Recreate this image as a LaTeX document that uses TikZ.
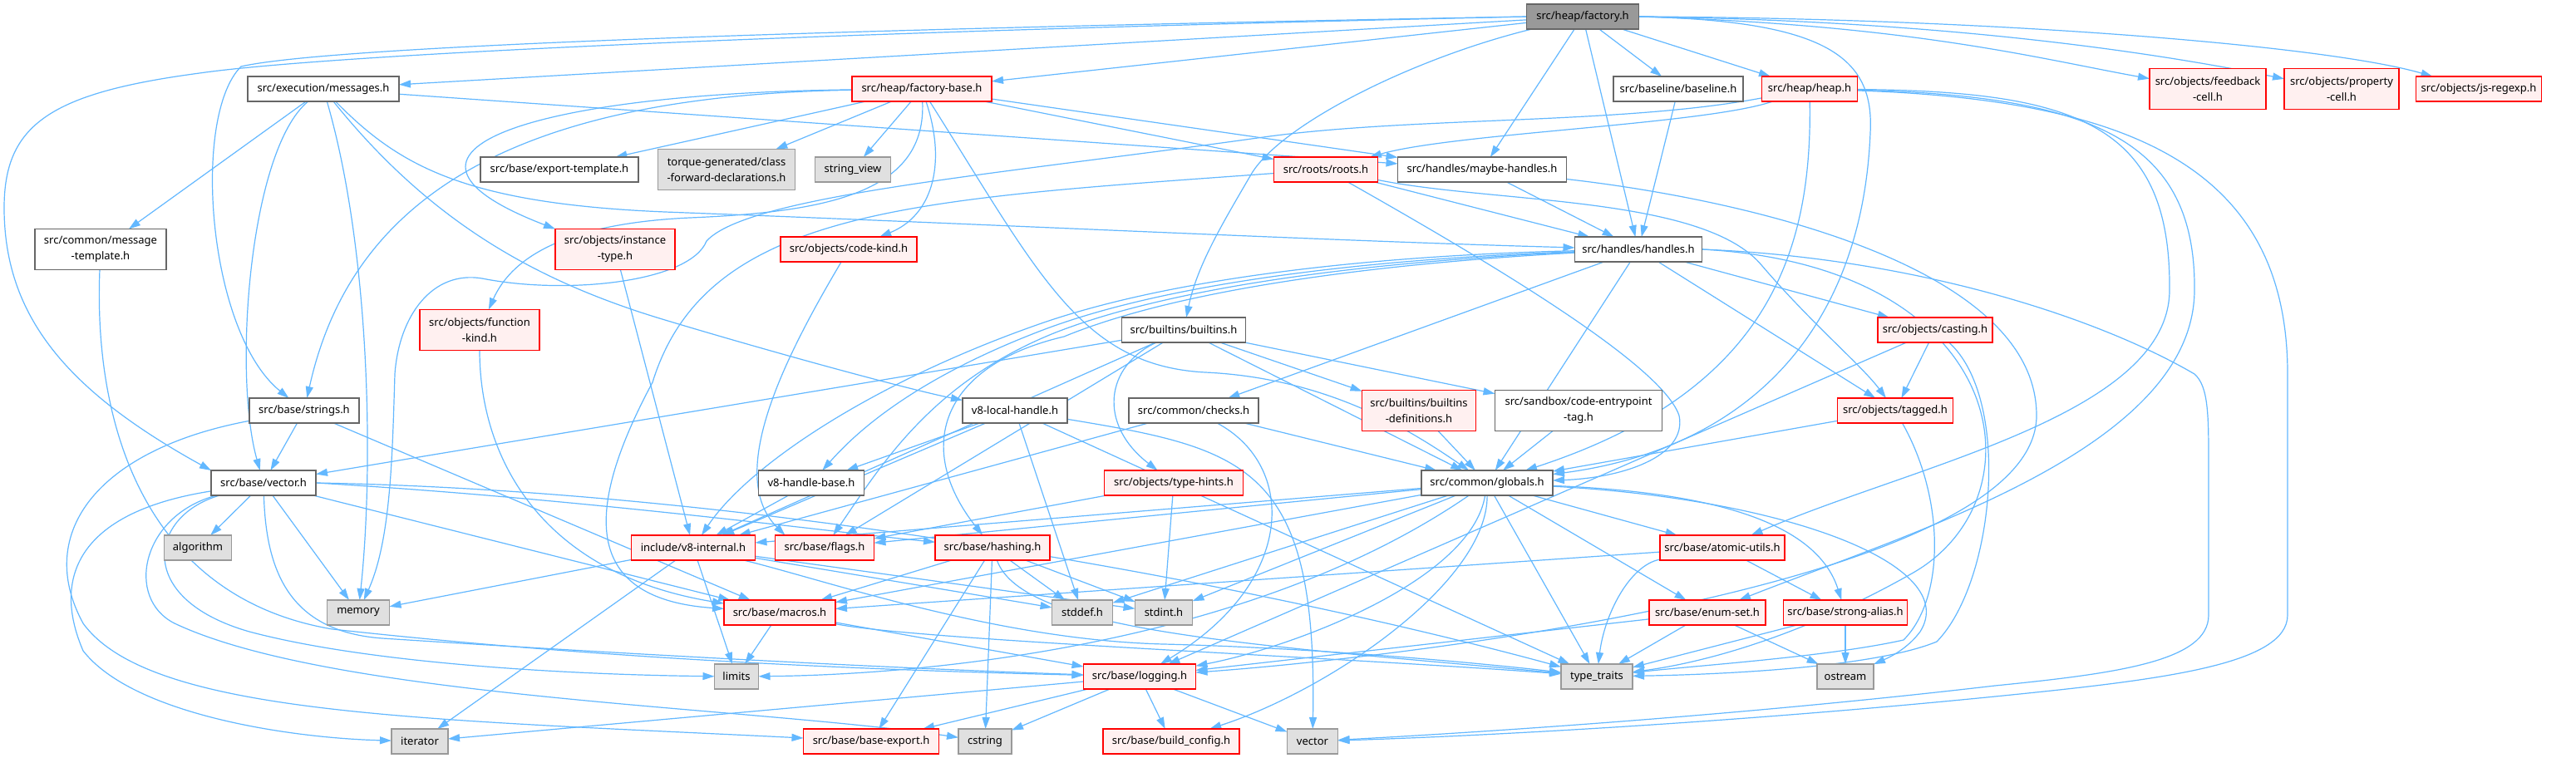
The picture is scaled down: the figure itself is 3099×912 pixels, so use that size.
\documentclass[tikz,border=0pt]{standalone}
\usepackage{fontspec}
\setmainfont{Noto Sans}
\usetikzlibrary{arrows.meta,backgrounds}
\definecolor{edgeblue}{HTML}{63B8FF}
\definecolor{redfill}{HTML}{FFF0F0}
\definecolor{stdfill}{HTML}{E0E0E0}
\definecolor{grayfill}{HTML}{999999}
\definecolor{darkborder}{HTML}{666666}
\definecolor{lightborder}{HTML}{999999}
\definecolor{redborder}{HTML}{FF0000}
\tikzset{
  box/.style={line width=1.4pt, inner sep=0pt, outer sep=0pt, align=center,
    font=\fontsize{13}{19}\selectfont, minimum height=30pt},
  wbox/.style={box, fill=white, draw=darkborder},
  rbox/.style={box, fill=redfill, draw=redborder},
  sbox/.style={box, fill=stdfill, draw=lightborder},
  gbox/.style={box, fill=grayfill, draw=darkborder},
  tall/.style={minimum height=49pt},
  edge/.style={draw=edgeblue, line width=1.2pt, -{Triangle[length=14pt,width=9pt]}},
}
\begin{document}
\begin{tikzpicture}[x=1pt,y=-1pt]
\useasboundingbox (0,0) rectangle (3099,912);
% nodes
\node[gbox, minimum width=135pt] (fac) at (1904,20) {src/heap/factory.h};
\node[wbox, minimum width=182pt] (msg) at (389,107) {src/execution/messages.h};
\node[rbox, minimum width=168pt] (fb) at (1109,107) {src/heap/factory-base.h};
\node[wbox, minimum width=156pt] (bl) at (2019,107) {src/baseline/baseline.h};
\node[rbox, minimum width=115pt] (heap) at (2177,107) {src/heap/heap.h};
\node[rbox, tall, minimum width=140pt] (fbc) at (2656,107) {src/objects/feedback\\-cell.h};
\node[rbox, tall, minimum width=138pt] (pc) at (2817,107) {src/objects/property\\-cell.h};
\node[rbox, minimum width=151pt] (jsr) at (2982,107) {src/objects/js-regexp.h};
\node[wbox, tall, minimum width=158pt] (mt) at (121,300) {src/common/message\\-template.h};
\node[wbox, minimum width=190pt] (et) at (673,204) {src/base/export-template.h};
\node[sbox, tall, minimum width=165pt] (tq) at (874,204) {torque-generated/class\\-forward-declarations.h};
\node[sbox, minimum width=91pt] (sv) at (1026,204) {string\_view};
\node[rbox, minimum width=125pt] (roots) at (1595,204) {src/roots/roots.h};
\node[wbox, minimum width=203pt] (mh) at (1783,204) {src/handles/maybe-handles.h};
\node[rbox, tall, minimum width=144pt] (it) at (740,300) {src/objects/instance\\-type.h};
\node[rbox, minimum width=164pt] (ck) at (1021,300) {src/objects/code-kind.h};
\node[wbox, minimum width=153pt] (hd) at (1971,300) {src/handles/handles.h};
\node[rbox, tall, minimum width=144pt] (fk) at (577,397) {src/objects/function\\-kind.h};
\node[wbox, minimum width=149pt] (bi) at (1424,397) {src/builtins/builtins.h};
\node[rbox, minimum width=138pt] (cast) at (2328,397) {src/objects/casting.h};
\node[wbox, minimum width=132pt] (str) at (366,494) {src/base/strings.h};
\node[wbox, minimum width=126pt] (lh) at (1221,494) {v8-local-handle.h};
\node[wbox, minimum width=156pt] (chk) at (1436,494) {src/common/checks.h};
\node[rbox, tall, minimum width=137pt] (bd) at (1707,494) {src/builtins/builtins\\-definitions.h};
\node[wbox, tall, minimum width=201pt] (cet) at (1899,494) {src/sandbox/code-entrypoint\\-tag.h};
\node[rbox, minimum width=139pt] (tag) at (2280,494) {src/objects/tagged.h};
\node[wbox, minimum width=126pt] (vec) at (317,581) {src/base/vector.h};
\node[wbox, minimum width=127pt] (hb) at (976,581) {v8-handle-base.h};
\node[rbox, minimum width=167pt] (th) at (1412,581) {src/objects/type-hints.h};
\node[wbox, minimum width=158pt] (gl) at (1789,581) {src/common/globals.h};
\node[sbox, minimum width=81pt] (alg) at (238,659) {algorithm};
\node[rbox, minimum width=149pt] (vi) at (834,659) {include/v8-internal.h};
\node[rbox, minimum width=119pt] (fl) at (992,659) {src/base/flags.h};
\node[rbox, minimum width=138pt] (ha) at (1194,659) {src/base/hashing.h};
\node[rbox, minimum width=150pt] (au) at (2072,659) {src/base/atomic-utils.h};
\node[sbox, minimum width=75pt] (mem) at (431,737) {memory};
\node[rbox, minimum width=134pt] (ma) at (938,737) {src/base/macros.h};
\node[sbox, minimum width=73pt] (sdd) at (1302,737) {stddef.h};
\node[sbox, minimum width=69pt] (sdi) at (1400,737) {stdint.h};
\node[rbox, minimum width=140pt] (es) at (2054,737) {src/base/enum-set.h};
\node[rbox, minimum width=149pt] (sa) at (2220,737) {src/base/strong-alias.h};
\node[sbox, minimum width=53pt] (lim) at (886,814) {limits};
\node[rbox, minimum width=135pt] (log) at (1371,814) {src/base/logging.h};
\node[sbox, minimum width=86pt] (tt) at (1921,814) {type\_traits};
\node[sbox, minimum width=68pt] (os) at (2220,814) {ostream};
\node[sbox, minimum width=68pt] (itr) at (505,892) {iterator};
\node[rbox, minimum width=163pt] (be) at (1048,892) {src/base/base-export.h};
\node[sbox, minimum width=64pt] (cs) at (1185,892) {cstring};
\node[rbox, minimum width=164pt] (bc) at (1409,892) {src/base/build\_config.h};
\node[sbox, minimum width=61pt] (svec) at (1579,892) {vector};

\begin{pgfonlayer}{background}
\fill[white] (0,0) rectangle (3099,912);
% factory.h
\draw[edge] (fac) -- (msg);
\draw[edge] (fac) -- (fb);
\draw[edge] (fac) -- (bl);
\draw[edge] (fac) -- (heap);
\draw[edge] (fac.east) .. controls (2300,30) and (2450,70) .. (fbc.170);
\draw[edge] (fac.east) .. controls (2350,25) and (2600,65) .. (pc.170);
\draw[edge] (fac.east) .. controls (2400,22) and (2800,55) .. ([xshift=20pt]jsr.north west);
\draw[edge] (fac) -- (mh);
\draw[edge] (fac) -- (hd);
\draw[edge] (fac) .. controls (1700,70) and (1540,150) .. (1505,210) .. controls (1470,270) and (1440,320) .. (bi);
\draw[edge] (fac.east) .. controls (2200,25) and (2255,70) .. (2250,160) .. controls (2240,400) and (2100,540) .. (gl);
\draw[edge] (fac.west) .. controls (1000,35) and (400,55) .. (290,80) .. controls (230,140) and (250,400) .. (str);
\draw[edge] (fac.west) .. controls (1000,38) and (400,65) .. (240,88) .. controls (60,112) and (5,150) .. (5,250) .. controls (5,380) and (80,470) .. (vec.north west);
% messages
\draw[edge] (msg) -- (mt);
\draw[edge] (msg) .. controls (300,180) and (280,450) .. (vec);
\draw[edge] (msg) .. controls (445,300) and (450,560) .. (mem);
\draw[edge] (msg) .. controls (520,270) and (650,340) .. (800,385) .. controls (950,430) and (1100,470) .. (lh);
\draw[edge] (msg) .. controls (480,200) and (560,245) .. (800,255) .. controls (1200,270) and (1600,290) .. (hd);
\draw[edge] (msg) -- (mh);
% factory-base
\draw[edge] (fb) -- (et);
\draw[edge] (fb) -- (tq);
\draw[edge] (fb) -- (sv);
\draw[edge] (fb) .. controls (650,112) and (420,180) .. (it.north west);
\draw[edge] (fb) .. controls (600,115) and (420,250) .. (str);
\draw[edge] (fb) .. controls (1115,230) and (1000,255) .. (830,262) .. controls (700,268) and (620,300) .. (fk);
\draw[edge] (fb) .. controls (1140,200) and (1120,260) .. (ck);
\draw[edge] (fb) .. controls (1250,330) and (1300,440) .. (1450,448) .. controls (1600,455) and (1700,520) .. (gl);
\draw[edge] (fb) -- (roots);
\draw[edge] (fb) -- (mh);
% baseline, heap
\draw[edge] (bl) -- (hd);
\draw[edge] (heap) .. controls (2050,150) and (1750,160) .. (roots);
\draw[edge] (heap) .. controls (2180,300) and (2130,470) .. (gl);
\draw[edge] (heap) .. controls (1950,150) and (1700,140) .. (1520,165) .. controls (1200,210) and (900,235) .. (850,290) .. controls (830,340) and (680,355) .. (580,335) .. controls (520,325) and (480,380) .. (475,450) .. controls (472,550) and (470,650) .. (mem);
\draw[edge] (heap) .. controls (2500,110) and (2612,150) .. (2610,350) .. controls (2608,500) and (2300,560) .. (au);
\draw[edge] (heap) .. controls (2520,115) and (2642,170) .. (2640,350) .. controls (2638,540) and (2300,640) .. (es);
\draw[edge] (heap) .. controls (2560,120) and (2752,200) .. (2752,450) -- (2752,740) .. controls (2752,800) and (2600,818) .. (2400,838) .. controls (2100,868) and (1800,885) .. (svec);
% message-template
\draw[edge] (mt) .. controls (112,520) and (180,720) .. (400,757) .. controls (700,790) and (1000,805) .. (log);
% roots
\draw[edge] (roots) -- (hd);
\draw[edge] (roots) .. controls (1800,245) and (2050,235) .. (2120,320) .. controls (2180,390) and (2240,440) .. (tag);
\draw[edge] (roots) .. controls (1800,320) and (2000,440) .. (2020,500) .. controls (2030,550) and (1950,575) .. (gl);
\draw[edge] (roots) .. controls (1100,240) and (850,250) .. (785,460) .. controls (710,600) and (690,720) .. (ma);
% maybe-handles
\draw[edge] (mh) -- (hd);
\draw[edge] (mh) .. controls (2100,240) and (2450,320) .. (2450,500) .. controls (2450,700) and (1700,790) .. (log);
% objects
\draw[edge] (it) -- (vi);
\draw[edge] (ck) .. controls (950,420) and (870,570) .. ([xshift=12pt]fl.north west);
\draw[edge] (fk) .. controls (577,550) and (650,690) .. (ma);
% handles
\draw[edge] (hd) .. controls (1750,305) and (1450,320) .. (1250,390) .. controls (1050,460) and (900,560) .. (vi);
\draw[edge] (hd) .. controls (1750,308) and (1450,325) .. (1260,395) .. controls (1100,455) and (1030,520) .. (hb);
\draw[edge] (hd) .. controls (1750,310) and (1450,330) .. (1270,400) .. controls (1120,460) and (1060,560) .. (fl);
\draw[edge] (hd) .. controls (1750,312) and (1450,335) .. (1280,405) .. controls (1130,440) and (1100,540) .. (ha);
\draw[edge] (hd) -- (cast);
\draw[edge] (hd) -- (tag);
\draw[edge] (hd) -- (gl);
\draw[edge] (hd) -- (chk);
\draw[edge] (hd.east) .. controls (2420,320) and (2460,600) .. (2300,690) .. controls (2150,775) and (2030,800) .. (tt);
\draw[edge] (hd.east) .. controls (2300,310) and (2520,380) .. (2640,450) .. controls (2657,465) and (2657,500) .. (2657,560) -- (2657,740) .. controls (2657,795) and (2550,810) .. (2400,825) .. controls (2100,860) and (1800,880) .. (svec);
% builtins
\draw[edge] (bi) -- (vec);
\draw[edge] (bi) -- (gl);
\draw[edge] (bi) -- (bd);
\draw[edge] (bi) -- (cet);
\draw[edge] (bi) .. controls (1330,440) and (1320,510) .. (th);
\draw[edge] (bi) -- (fl);
\draw[edge] (bi) -- (vi);
% strings
\draw[edge] (str) -- (vec);
\draw[edge] (str) -- (ma);
\draw[edge] (str) .. controls (120,540) and (40,640) .. (100,750) .. controls (180,860) and (500,865) .. (be);
% v8-local-handle
\draw[edge] (lh) -- (hb);
\draw[edge] (lh) -- (vi);
\draw[edge] (lh) -- (sdd);
\draw[edge] (lh) -- (tt);
\draw[edge] (lh) .. controls (1500,540) and (1585,560) .. (svec);
% checks
\draw[edge] (chk) -- (vi);
\draw[edge] (chk) .. controls (1560,560) and (1560,700) .. (log);
\draw[edge] (chk) -- (gl);
\draw[edge] (bd) -- (gl);
\draw[edge] (cet) -- (gl);
% tagged, casting
\draw[edge] (tag) -- (gl);
\draw[edge] (tag) .. controls (2340,600) and (2340,720) .. (2290,770) .. controls (2200,790) and (2050,800) .. (tt);
\draw[edge] (cast) -- (tag);
\draw[edge] (cast) .. controls (2420,480) and (2400,700) .. (2330,772) .. controls (2250,805) and (2050,812) .. (tt);
\draw[edge] (cast) -- (log);
% vector
\draw[edge] (vec) -- (alg);
\draw[edge] (vec) -- (mem);
\draw[edge] (vec) .. controls (100,615) and (60,690) .. (100,783) .. controls (160,860) and (350,888) .. (itr);
\draw[edge] (vec) .. controls (170,620) and (150,720) .. (210,750) .. controls (400,840) and (900,850) .. (cs);
\draw[edge] (vec) .. controls (180,620) and (160,720) .. (300,760) .. controls (450,800) and (700,812) .. (lim);
\draw[edge] (vec) .. controls (320,690) and (350,760) .. (460,768) .. controls (800,790) and (1100,805) .. (log);
\draw[edge] (vec) -- (ma);
\draw[edge] (vec.east) .. controls (900,590) and (1500,700) .. (tt);
\draw[edge] (vec.east) .. controls (700,600) and (1000,640) .. (ha);
% handle base, type hints
\draw[edge] (hb) -- (vi);
\draw[edge] (th) -- (fl);
\draw[edge] (th) -- (sdi);
% globals
\draw[edge] (gl) -- (vi);
\draw[edge] (gl) -- (fl);
\draw[edge] (gl) -- (ma);
\draw[edge] (gl) .. controls (1770,700) and (1550,780) .. (log);
\draw[edge] (gl) -- (au);
\draw[edge] (gl) -- (es);
\draw[edge] (gl) .. controls (2000,590) and (2180,610) .. (sa);
\draw[edge] (gl) -- (tt);
\draw[edge] (gl) -- (sdd);
\draw[edge] (gl) -- (sdi);
\draw[edge] (gl) .. controls (2150,600) and (2360,680) .. (2310,760) .. controls (2295,780) and (2275,790) .. (os);
\draw[edge] (gl) .. controls (1500,780) and (1100,812) .. (lim);
\draw[edge] (gl) .. controls (1790,700) and (1600,830) .. (bc);
% v8-internal
\draw[edge] (vi) -- (mem);
\draw[edge] (vi) -- (lim);
\draw[edge] (vi) -- (itr);
\draw[edge] (vi) -- (sdd);
\draw[edge] (vi) -- (sdi);
\draw[edge] (vi) .. controls (1000,700) and (1200,770) .. (1400,775) .. controls (1600,780) and (1800,800) .. (tt);
% hashing
\draw[edge] (ha) -- (ma);
\draw[edge] (ha) -- (be);
\draw[edge] (ha) -- (cs);
\draw[edge] (ha) -- (sdd);
\draw[edge] (ha) -- (sdi);
\draw[edge] (ha) .. controls (1230,760) and (1500,775) .. (tt);
% atomic-utils, enum-set, strong-alias
\draw[edge] (au) -- (ma);
\draw[edge] (au) -- (sa);
\draw[edge] (au) .. controls (1960,680) and (1930,740) .. (tt);
\draw[edge] (es) -- (log);
\draw[edge] (es) -- (os);
\draw[edge] (es) -- (tt);
\draw[edge] (sa) -- (os);
\draw[edge] (sa) -- (tt);
% macros
\draw[edge] (ma) -- (lim);
\draw[edge] (ma) -- (log);
\draw[edge] (ma) .. controls (1100,770) and (1600,790) .. (tt);
% logging
\draw[edge] (log) -- (itr);
\draw[edge] (log) -- (be);
\draw[edge] (log) -- (cs);
\draw[edge] (log) -- (bc);
\draw[edge] (log) -- (svec);
\end{pgfonlayer}
\end{tikzpicture}
\end{document}
